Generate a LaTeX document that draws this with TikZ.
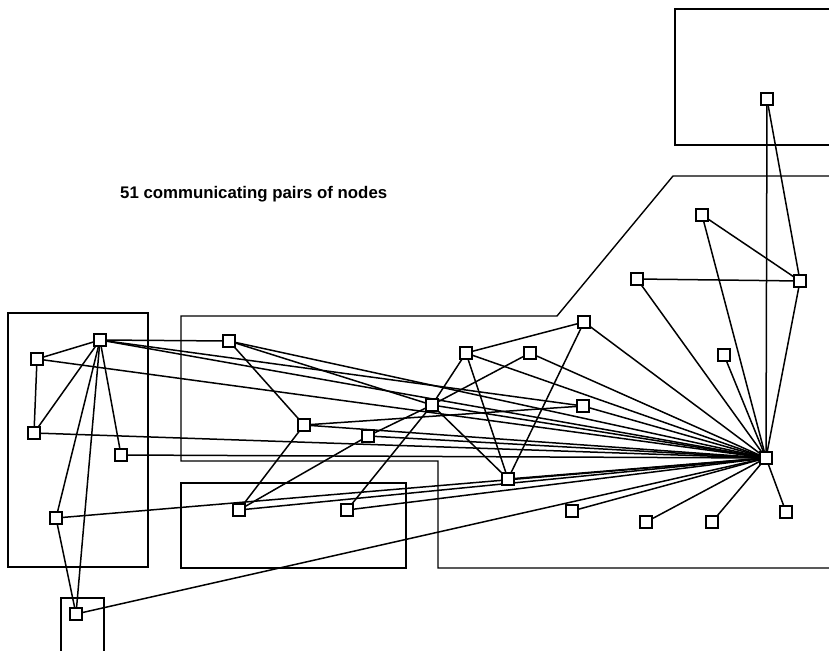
\documentclass[tikz,border=0pt]{standalone}
\usepackage{fontspec}
\usetikzlibrary{backgrounds}
\newfontfamily\titlefont{Liberation Sans}
\begin{document}
\begin{tikzpicture}[x=1pt,y=-1pt,
  box/.style={draw=black,line width=1.4pt},
  link/.style={draw=black,line width=1.5pt},
  nd/.style={draw=black,fill=white,line width=1.3pt,minimum size=12pt,inner sep=0pt,rectangle}]
\useasboundingbox (0,0) rectangle (829,650);
% regions
\draw[box] (831,9) -- (675,9) -- (675,145) -- (831,145);
\draw[box] (831,176) -- (673,176) -- (557,316) -- (181,316) -- (181,461) -- (438,461) -- (438,568) -- (831,568);
\draw[box] (8,313) rectangle (148,567);
\draw[box] (181,483) rectangle (406,568);
\draw[box] (61,652) -- (61,598) -- (104,598) -- (104,652);
% title
\node[anchor=base west,inner sep=0pt] (title) at (120,198) {\titlefont\bfseries\fontsize{16.8}{19}\selectfont 51 communicating pairs of nodes};
% nodes
\node[nd] (nA) at (100,340) {};
\node[nd] (nB) at (37,359) {};
\node[nd] (nC) at (34,433) {};
\node[nd] (nD) at (121,455) {};
\node[nd] (nE) at (56,518) {};
\node[nd] (nF) at (76,614) {};
\node[nd] (nG) at (229,341) {};
\node[nd] (nH) at (304,425) {};
\node[nd] (nI) at (368,436) {};
\node[nd] (nJ) at (432,405) {};
\node[nd] (nK) at (239,510) {};
\node[nd] (nL) at (347,510) {};
\node[nd] (nM) at (466,353) {};
\node[nd] (nN) at (530,353) {};
\node[nd] (nO) at (584,322) {};
\node[nd] (nP) at (583,406) {};
\node[nd] (nQ) at (508,479) {};
\node[nd] (nR) at (766,458) {};
\node[nd] (nS) at (767,99) {};
\node[nd] (nT) at (702,215) {};
\node[nd] (nU) at (637,279) {};
\node[nd] (nV) at (800,281) {};
\node[nd] (nW) at (724,355) {};
\node[nd] (nX) at (572,511) {};
\node[nd] (nY) at (646,522) {};
\node[nd] (nZ) at (712,522) {};
\node[nd] (nAA) at (786,512) {};
% links behind the nodes
\begin{scope}[on background layer]
\draw[link] (nA.center) -- (nB.center);
\draw[link] (nA.center) -- (nC.center);
\draw[link] (nB.center) -- (nC.center);
\draw[link] (nA.center) -- (nD.center);
\draw[link] (nA.center) -- (nE.center);
\draw[link] (nA.center) -- (nF.center);
\draw[link] (nE.center) -- (nF.center);
\draw[link] (nA.center) -- (nG.center);
\draw[link] (nA.center) -- (nP.center);
\draw[link] (nA.center) -- (nR.center);
\draw[link] (nB.center) -- (nR.center);
\draw[link] (nC.center) -- (nR.center);
\draw[link] (nD.center) -- (nR.center);
\draw[link] (nE.center) -- (nR.center);
\draw[link] (nF.center) -- (nR.center);
\draw[link] (nG.center) -- (nH.center);
\draw[link] (nG.center) -- (nJ.center);
\draw[link] (nG.center) -- (nR.center);
\draw[link] (nH.center) -- (nK.center);
\draw[link] (nH.center) -- (nP.center);
\draw[link] (nH.center) -- (nR.center);
\draw[link] (nK.center) -- (nI.center);
\draw[link] (nI.center) -- (nJ.center);
\draw[link] (nI.center) -- (nR.center);
\draw[link] (nK.center) -- (nR.center);
\draw[link] (nL.center) -- (nJ.center);
\draw[link] (nL.center) -- (nR.center);
\draw[link] (nJ.center) -- (nM.center);
\draw[link] (nJ.center) -- (nN.center);
\draw[link] (nJ.center) -- (nQ.center);
\draw[link] (nJ.center) -- (nR.center);
\draw[link] (nM.center) -- (nO.center);
\draw[link] (nM.center) -- (nQ.center);
\draw[link] (nM.center) -- (nR.center);
\draw[link] (nN.center) -- (nR.center);
\draw[link] (nO.center) -- (nQ.center);
\draw[link] (nO.center) -- (nR.center);
\draw[link] (nP.center) -- (nR.center);
\draw[link] (nQ.center) -- (nR.center);
\draw[link] (nS.center) -- (nR.center);
\draw[link] (nS.center) -- (nV.center);
\draw[link] (nV.center) -- (nR.center);
\draw[link] (nT.center) -- (nV.center);
\draw[link] (nT.center) -- (nR.center);
\draw[link] (nU.center) -- (nV.center);
\draw[link] (nU.center) -- (nR.center);
\draw[link] (nW.center) -- (nR.center);
\draw[link] (nX.center) -- (nR.center);
\draw[link] (nY.center) -- (nR.center);
\draw[link] (nZ.center) -- (nR.center);
\draw[link] (nAA.center) -- (nR.center);
\end{scope}
\end{tikzpicture}
\end{document}
